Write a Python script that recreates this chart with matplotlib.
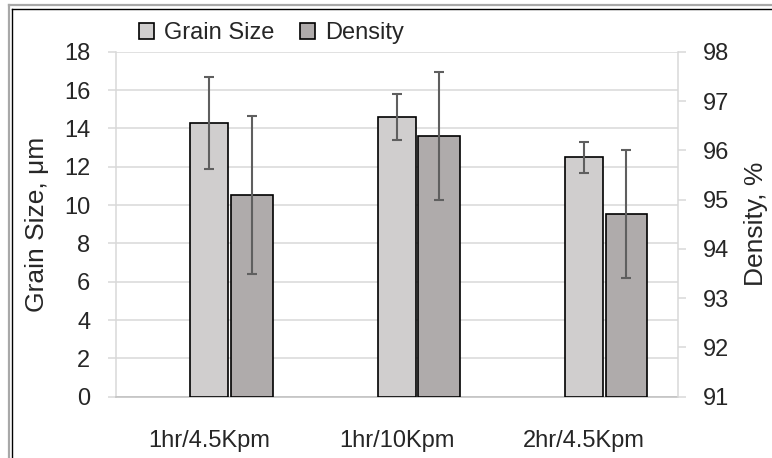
import numpy as np
import matplotlib as mpl
mpl.use('Agg')
import matplotlib.pyplot as plt
from matplotlib.patches import Patch
from matplotlib.lines import Line2D

categories = ['1hr/4.5Kpm', '1hr/10Kpm', '2hr/4.5Kpm']
grain = [14.3, 14.6, 12.5]
grain_err = [2.4, 1.2, 0.8]
density = [95.1, 96.3, 94.7]
density_err = [1.6, 1.3, 1.3]

mpl.rc('font', family=['Liberation Sans', 'DejaVu Sans'], size=17)
grid_c = '#d9d9d9'
text_c = '#262626'

fig = plt.figure(figsize=(7.72, 4.58), dpi=100)
ax = fig.add_axes([0.150, 0.1338, 0.728, 0.753])
ax2 = ax.twinx()

x = np.arange(len(categories))
ax.bar(x, grain, width=0.203, color='#d0cece', edgecolor='black', linewidth=1.2, zorder=3)
ax.errorbar(x, grain, yerr=grain_err, fmt='none', ecolor='#5f5f5f',
            elinewidth=1.5, capsize=3.6, capthick=1.5, zorder=4)

d = np.array(density)
ax2.bar(x + 0.226, d - 91, bottom=91, width=0.224, color='#afabab',
        edgecolor='black', linewidth=1.2, zorder=3)
ax2.errorbar(x + 0.226, d, yerr=density_err, fmt='none', ecolor='#5f5f5f',
             elinewidth=1.5, capsize=3.6, capthick=1.5, zorder=4)

ax.set_xlim(-0.5, 2.5)
ax.set_ylim(0, 18)
ax.set_yticks(np.arange(0, 19, 2))
ax2.set_ylim(91, 98)
ax2.set_yticks(np.arange(91, 99, 1))
ax.set_xticks(x)
ax.set_xticklabels(categories)

ax.yaxis.grid(True, color=grid_c, linewidth=1.1, zorder=0)
ax.set_axisbelow(True)
for a in (ax, ax2):
    for s in a.spines.values():
        s.set_visible(False)
ax.spines['left'].set_visible(True)
ax.spines['left'].set_color(grid_c)
ax.spines['left'].set_linewidth(1.1)
ax2.spines['right'].set_visible(True)
ax2.spines['right'].set_color(grid_c)
ax2.spines['right'].set_linewidth(1.1)
ax.spines['bottom'].set_visible(True)
ax.spines['bottom'].set_color('#bfbfbf')
ax.spines['bottom'].set_linewidth(1.1)

ax.tick_params(axis='y', length=5.8, width=1.1, color=grid_c, pad=12.5, labelcolor=text_c)
ax2.tick_params(axis='y', length=5.8, width=1.1, color=grid_c, pad=12.5, labelcolor=text_c)
ax.tick_params(axis='x', length=0, pad=24, labelcolor=text_c)

ax.set_ylabel('Grain Size, μm', color=text_c, fontsize=19)
ax.yaxis.set_label_coords(-0.119, 0.5)
ax2.set_ylabel('Density, %', color=text_c, rotation=90, fontsize=19)
ax2.yaxis.set_label_coords(1.118, 0.5)

handles = [Patch(facecolor='#d0cece', edgecolor='black', linewidth=1.2),
           Patch(facecolor='#afabab', edgecolor='black', linewidth=1.2)]
leg = fig.legend(handles, ['Grain Size', 'Density'], loc='center left',
                 bbox_to_anchor=(127 / 772, 1 - 33 / 458), ncol=2, frameon=False,
                 borderpad=0, handlelength=0.65, handleheight=0.65,
                 handletextpad=0.4, columnspacing=1.1)
for t in leg.get_texts():
    t.set_color(text_c)

# outer frame (cut off at right/bottom in the original)
W, H = 772, 458
fig.add_artist(Line2D([9 / W, 9 / W], [0, 1 - 5 / H], color='#a8a8a8', linewidth=1.6))
fig.add_artist(Line2D([9 / W, 1], [1 - 5 / H, 1 - 5 / H], color='#a8a8a8', linewidth=1.6))
fig.add_artist(Line2D([12 / W, 12 / W], [0, 1 - 8.5 / H], color='black', linewidth=1.0))
fig.add_artist(Line2D([12 / W, 1], [1 - 8.5 / H, 1 - 8.5 / H], color='black', linewidth=1.0))

fig.savefig('out.png', dpi=100)
